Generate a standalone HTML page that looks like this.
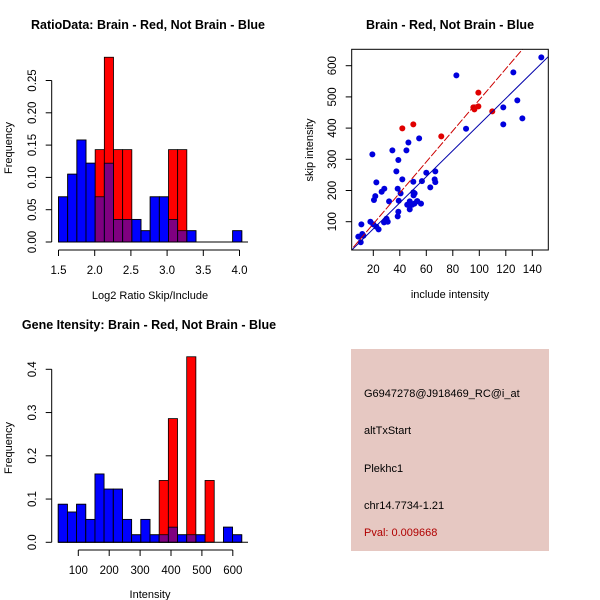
<!DOCTYPE html>
<html><head><meta charset="utf-8"><style>
html,body{margin:0;padding:0;background:#fff}
svg{display:block;font-family:"Liberation Sans",sans-serif}
</style></head><body>
<svg id="chart" width="600" height="600" viewBox="0 0 600 600" xmlns="http://www.w3.org/2000/svg">
<g id="p1"></g>
<g id="p2"></g>
<g id="p3"></g>
<g id="p4">
<rect x="351" y="349" width="198" height="202" fill="#e6c8c2"/>
<g font-size="11" fill="#000">
<text x="364" y="397">G6947278@J918469_RC@i_at</text>
<text x="364" y="434">altTxStart</text>
<text x="364" y="472">Plekhc1</text>
<text x="364" y="509">chr14.7734-1.21</text>
<text x="364" y="536" fill="#b00000">Pval: 0.009668</text>
</g></g>
</svg>
<script>
// ---- ratio histogram data ----
const ratioBinStart = 1.5;
const ratioBinWidth = 0.1266;
const ratioBlue = [0.07,0.105,0.158,0.122,0.07,0.122,0.035,0.035,0.035,0.0175,0.07,0.07,0.035,0.0175,0.0175,0,0,0,0,0.0175];
const ratioRed  = [0,0,0,0,0.143,0.286,0.143,0.143,0,0,0,0,0.143,0.143,0,0,0,0,0,0];
const ratioXTicks = [1.5,2.0,2.5,3.0,3.5,4.0];
const ratioXTickLabels = ["1.5","2.0","2.5","3.0","3.5","4.0"];
const ratioYTicks = [0,0.05,0.10,0.15,0.20,0.25];
const ratioYTickLabels = ["0.00","0.05","0.10","0.15","0.20","0.25"];
// ---- intensity histogram data ----
const intBinStart = 35;
const intBinWidth = 29.7;
const intBlue = [0.088,0.07,0.088,0.053,0.158,0.123,0.123,0.053,0.0175,0.053,0.0175,0.0175,0.035,0.0175,0.0175,0.0175,0,0,0.035,0.0175];
const intRed  = [0,0,0,0,0,0,0,0,0,0,0,0.143,0.286,0,0.429,0,0.143,0,0,0];
const intXTicks = [100,200,300,400,500,600];
const intXTickLabels = ["100","200","300","400","500","600"];
const intYTicks = [0,0.1,0.2,0.3,0.4];
const intYTickLabels = ["0.0","0.1","0.2","0.3","0.4"];
// ---- scatter data ----
const blueX = [146.8,82.7,125.7,128.7,118.1,132.5,118.1,90,54.6,46.5,34.4,45,38.9,19.3,37.4,41.9,60,66.8,66.8,66.3,63,56.7,50.2,22.3,26.3,28.3,38.4,40.6,50.2,50.4,51.2,21.5,20.5,31.9,39.2,47.5,45.6,47.5,49.3,53,51,56,53.2,38.9,38.4,17.8,29,30,28.1,30.9,20,24,22.3,11,8.7,11.7,10.5,12.5];
const blueY = [626.7,569,578.6,488.9,466.5,431,412,398,367,354,328.6,328.6,297.6,315.8,261.4,235.8,257,261.4,227,235.8,210,230,228,226,196,205.8,205.8,190.8,194,184.5,190.8,182,169.5,165,167,165,154.5,139.6,154.5,165.7,158,158,166,132,117,100,104,109.6,98,100,91.5,75.4,84,91.5,52,60.5,34,55];
const redX = [41.9,50.2,71.3,96.3,95.5,99.3,99.3,109.8];
const redY = [399,412,373.5,460,466.5,513.6,469.8,453.7];
const redFit = [-6.4,4.97];   // intercept, slope
const blueFit = [-6.5,4.18];
const scXTicks = [20,40,60,80,100,120,140];
const scXTickLabels = ["20","40","60","80","100","120","140"];
const scYTicks = [100,200,300,400,500,600];
const scYTickLabels = ["100","200","300","400","500","600"];

const NS="http://www.w3.org/2000/svg";
function mk(parent,tag,attrs,text){const e=document.createElementNS(NS,tag);for(const k in attrs)e.setAttribute(k,attrs[k]);if(text!==undefined)e.textContent=text;parent.appendChild(e);return e;}

function histogram(g,o){
  const sx=v=>o.x0px+(v-o.x0)*o.xs, sy=v=>o.y0px-v*o.ys;
  let t=mk(g,'text',{x:o.titleX,y:o.titleY,'text-anchor':'middle','font-size':'12.5','font-weight':'bold'},o.title);
  
  
  function bars(vals,fill,op,name){
    vals.forEach((v,i)=>{ if(v<=0) return;
      const a=o.binStart+i*o.binWidth, b=a+o.binWidth;
      const r=mk(g,'rect',{x:sx(a),y:sy(v),width:sx(b)-sx(a),height:sy(0)-sy(v),fill:fill,'fill-opacity':op,stroke:'#000','stroke-width':'0.8'});
      
      
    });
  }
  bars(o.blue,'#0000ff',1,'blue');
  bars(o.red,'#ff0000',1,'red');
  bars(o.blue,'#0000ff',0.5,'blue-overlay');
  let base=mk(g,'line',{x1:sx(o.binStart),x2:o.baseEnd,y1:sy(0),y2:sy(0),stroke:'#000','stroke-width':'1'});
  
  
  // x axis
  const xa=mk(g,'g',{});
  
  
  const xAxY=o.xAxisY;
  mk(xa,'line',{x1:sx(o.xTicks[0]),x2:sx(o.xTicks[o.xTicks.length-1]),y1:xAxY,y2:xAxY,stroke:'#000'});
  o.xTicks.forEach((v,i)=>{mk(xa,'line',{x1:sx(v),x2:sx(v),y1:xAxY,y2:xAxY+6,stroke:'#000'});
    mk(xa,'text',{x:sx(v),y:xAxY+24,'text-anchor':'middle','font-size':'11.5'},o.xLabels[i]);});
  const xl=mk(g,'text',{x:150,y:o.xTitleY,'text-anchor':'middle','font-size':'11'},o.xTitle);
  
  
  // y axis
  const ya=mk(g,'g',{});
  
  
  mk(ya,'line',{x1:51.7,x2:51.7,y1:sy(o.yTicks[0]),y2:sy(o.yTicks[o.yTicks.length-1]),stroke:'#000'});
  o.yTicks.forEach((v,i)=>{mk(ya,'line',{x1:45.7,x2:51.7,y1:sy(v),y2:sy(v),stroke:'#000'});
    mk(ya,'text',{x:0,y:0,'text-anchor':'middle','font-size':'11.5',transform:`translate(36,${sy(v)}) rotate(-90)`},o.yLabels[i]);});
  const yl=mk(g,'text',{x:0,y:0,'text-anchor':'middle','font-size':'11',transform:`translate(12,${o.yTitleY}) rotate(-90)`},'Frequency');
  
  
}

histogram(document.getElementById('p1'),{
  title:'RatioData: Brain - Red, Not Brain - Blue',titleX:148,titleY:29,
  x0:1.5,x0px:58.5,xs:72.4,y0px:242,ys:646,
  binStart:ratioBinStart,binWidth:ratioBinWidth,blue:ratioBlue,red:ratioRed,baseEnd:248,
  xTicks:ratioXTicks,xLabels:ratioXTickLabels,xAxisY:250,xTitleY:299,xTitle:'Log2 Ratio Skip/Include',
  yTicks:ratioYTicks,yLabels:ratioYTickLabels,yTitleY:148});

histogram(document.getElementById('p3'),{
  title:'Gene Itensity: Brain - Red, Not Brain - Blue',titleX:149,titleY:329,
  x0:0,x0px:47.4,xs:0.309,y0px:542.3,ys:432.5,
  binStart:intBinStart,binWidth:intBinWidth,blue:intBlue,red:intRed,baseEnd:248,
  xTicks:intXTicks,xLabels:intXTickLabels,xAxisY:550,xTitleY:598,xTitle:'Intensity',
  yTicks:intYTicks,yLabels:intYTickLabels,yTitleY:448});

// scatter
(function(){
  const g=document.getElementById('p2');
  const L=351.7,R=548.3,T=49.3,B=250;
  const sx=v=>346.8+v*1.325, sy=v=>221.7-(v-100)*0.312;
  const t=mk(g,'text',{x:450,y:29,'text-anchor':'middle','font-size':'12.5','font-weight':'bold'},'Brain - Red, Not Brain - Blue');
  
  
  const defs=mk(g,'defs',{});
  const cp=mk(defs,'clipPath',{id:'clipSc'});
  mk(cp,'rect',{x:L,y:T,width:R-L,height:B-T});
  const inner=mk(g,'g',{'clip-path':'url(#clipSc)'});
  blueX.forEach((x,i)=>{const c=mk(inner,'circle',{cx:sx(x),cy:sy(blueY[i]),r:3,fill:'#0000dd'});
    
    });
  redX.forEach((x,i)=>{const c=mk(inner,'circle',{cx:sx(x),cy:sy(redY[i]),r:3,fill:'#e00000'});
    
    });
  const xA=0,xB=160;
  const bl=mk(inner,'line',{x1:sx(xA),y1:sy(blueFit[0]+blueFit[1]*xA),x2:sx(xB),y2:sy(blueFit[0]+blueFit[1]*xB),stroke:'#0000aa','stroke-width':'1'});
  
  
  const rl=mk(inner,'line',{x1:sx(xA),y1:sy(redFit[0]+redFit[1]*xA),x2:sx(xB),y2:sy(redFit[0]+redFit[1]*xB),stroke:'#cc0000','stroke-width':'1','stroke-dasharray':'8,2'});
  
  
  const box=mk(g,'rect',{x:L,y:T,width:R-L,height:B-T,fill:'none',stroke:'#000'});
  
  
  const xa=mk(g,'g',{});
  
  
  scXTicks.forEach((v,i)=>{mk(xa,'line',{x1:sx(v),x2:sx(v),y1:B,y2:B+6,stroke:'#000'});
    mk(xa,'text',{x:sx(v),y:B+23,'text-anchor':'middle','font-size':'11.5'},scXTickLabels[i]);});
  const ya=mk(g,'g',{});
  
  
  scYTicks.forEach((v,i)=>{mk(ya,'line',{x1:L-6,x2:L,y1:sy(v),y2:sy(v),stroke:'#000'});
    mk(ya,'text',{x:0,y:0,'text-anchor':'middle','font-size':'11.5',transform:`translate(336,${sy(v)}) rotate(-90)`},scYTickLabels[i]);});
  const xl=mk(g,'text',{x:450,y:298,'text-anchor':'middle','font-size':'11'},'include intensity');
  
  
  const yl=mk(g,'text',{x:0,y:0,'text-anchor':'middle','font-size':'11',transform:'translate(313,150) rotate(-90)'},'skip intensity');
  
  
})();
</script>
</body></html>
